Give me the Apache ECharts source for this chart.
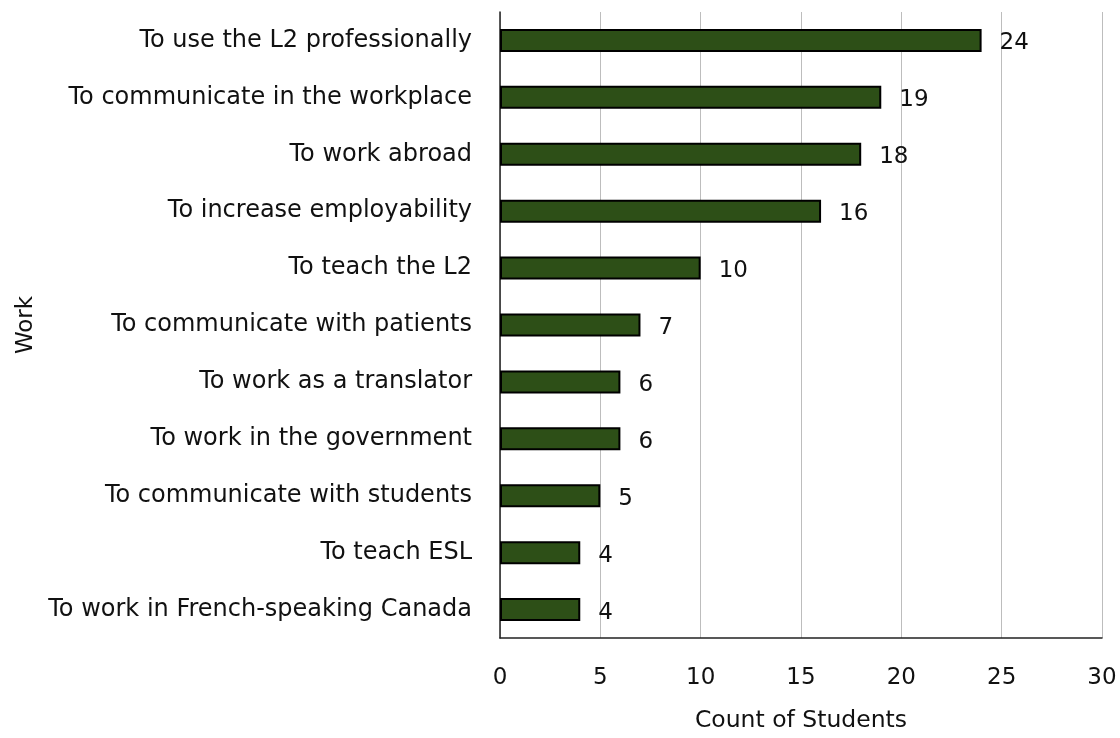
<!DOCTYPE html>
<html><head><meta charset="utf-8">
<script src="https://cdn.jsdelivr.net/npm/echarts@6/dist/echarts.min.js"></script>
<style>html,body{margin:0;padding:0;background:#fff}#c{width:1120px;height:738px}</style>
</head><body><div id="c"></div>
<script>
var categories = ["To use the L2 professionally","To communicate in the workplace","To work abroad","To increase employability","To teach the L2","To communicate with patients","To work as a translator","To work in the government","To communicate with students","To teach ESL","To work in French-speaking Canada"];
var values = [24,19,18,16,10,7,6,6,5,4,4];
var xTicks = [0,5,10,15,20,25,30];
var font = 'DejaVu Sans';
var chart = echarts.init(document.getElementById('c'));
chart.setOption({
  animation:false,
  grid:{left:500,right:18,top:12,bottom:98,containLabel:false},
  xAxis:{type:'value',min:0,max:30,interval:5,
    name:'Count of Students',nameLocation:'middle',nameGap:71,
    nameTextStyle:{fontSize:23.5,color:'#111',fontFamily:font},
    axisLine:{show:true,lineStyle:{color:'#222',width:1.5}},
    axisTick:{show:false},
    axisLabel:{fontSize:23,color:'#111',fontFamily:font,margin:29,
      formatter:function(v){return xTicks.indexOf(v)>=0?String(v):'';}},
    splitLine:{show:true,lineStyle:{color:'#bdbdbd',width:1}}
  },
  yAxis:{type:'category',data:categories,inverse:true,
    name:'Work',nameLocation:'middle',nameGap:462,nameRotate:90,
    nameTextStyle:{fontSize:23,color:'#111',fontFamily:font},
    axisLine:{show:true,lineStyle:{color:'#222',width:1.5}},
    axisTick:{show:false},
    axisLabel:{fontSize:24,color:'#111',fontFamily:font,margin:28,padding:[5,0,0,0]}
  },
  series:[{type:'bar',data:values,barWidth:23,
    itemStyle:{color:'#2d4f17',borderColor:'#000',borderWidth:2},
    label:{show:true,position:'right',distance:18,offset:[0,3],fontSize:23,color:'#111',fontFamily:font}
  }]
});
</script></body></html>
